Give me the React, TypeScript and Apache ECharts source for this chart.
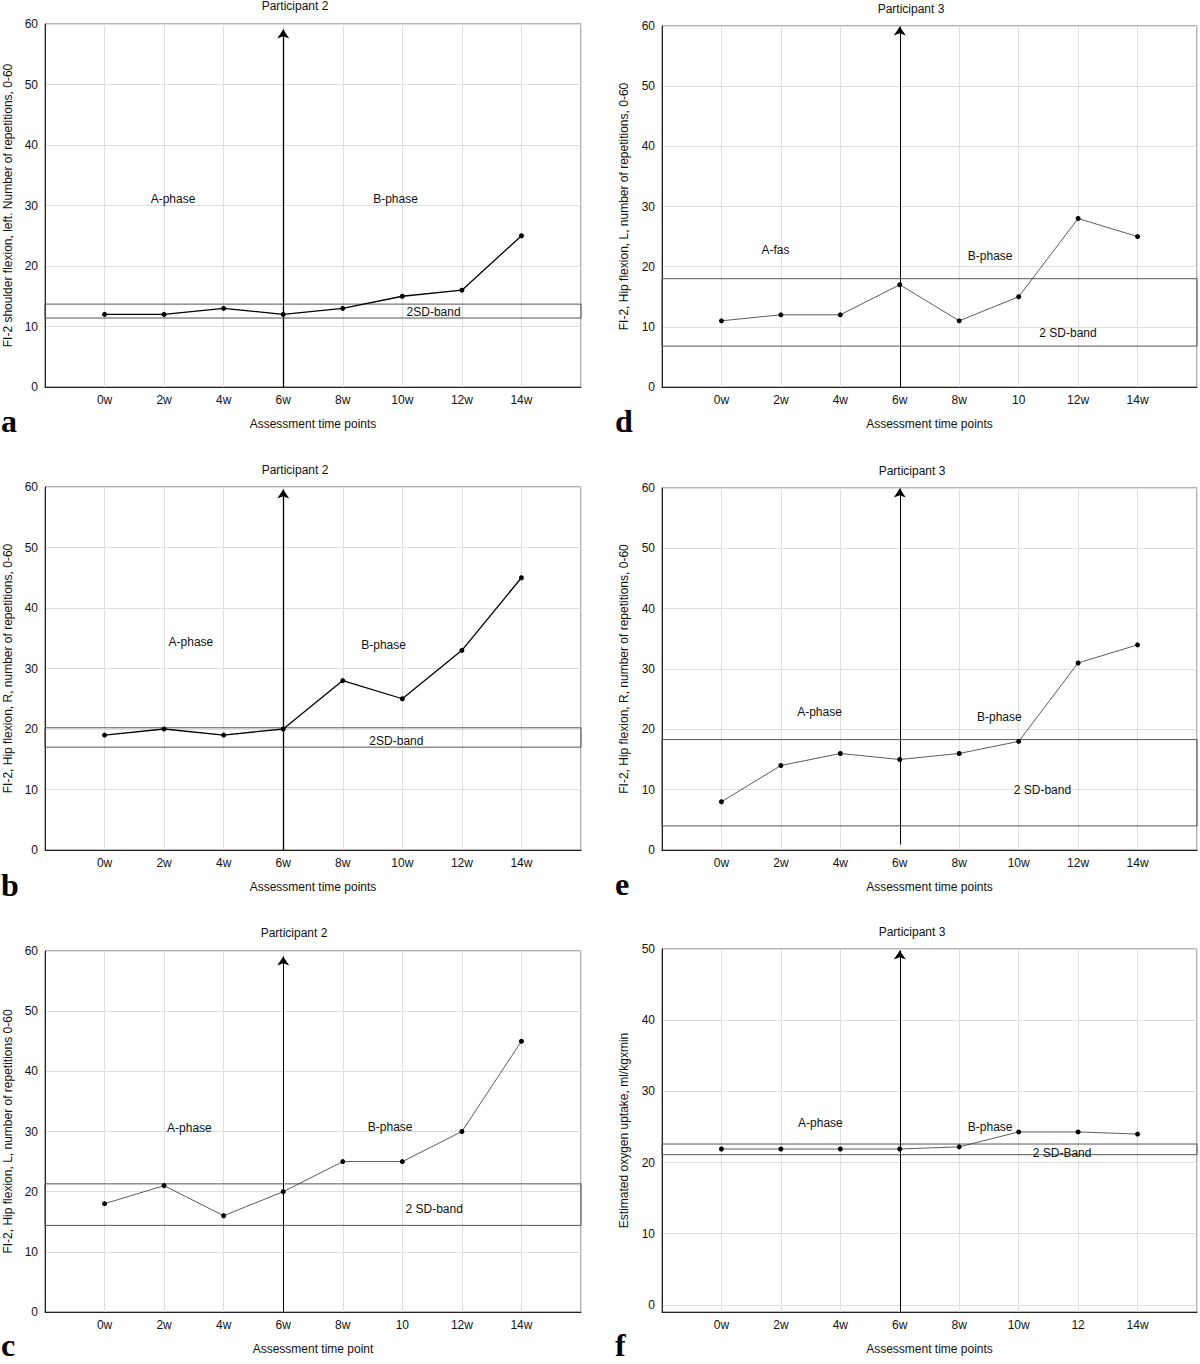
import React, { useEffect, useRef } from 'react';
import * as echarts from 'echarts';

const FONT = '"Liberation Sans", Arial, Helvetica, sans-serif';

const weeks = [0, 2, 4, 6, 8, 10, 12, 14];
const ticksStd = ['0w', '2w', '4w', '6w', '8w', '10w', '12w', '14w'];
const ticksTen = ['0w', '2w', '4w', '6w', '8w', '10', '12w', '14w'];
const ticksTwelve = ['0w', '2w', '4w', '6w', '8w', '10w', '12', '14w'];

const valuesA = [12, 12, 13, 12, 13, 15, 16, 25];
const valuesB = [19, 20, 19, 20, 28, 25, 33, 45];
const valuesC = [18, 21, 16, 20, 25, 25, 30, 45];
const valuesD = [11, 12, 12, 17, 11, 15, 28, 25];
const valuesE = [8, 14, 16, 15, 16, 18, 31, 34];
const valuesF = [21.9, 21.9, 21.9, 21.9, 22.2, 24.3, 24.3, 24.0];

const bandA = [11.4, 13.7];
const bandB = [17.0, 20.2];
const bandC = [14.4, 21.3];
const bandD = [6.8, 18.0];
const bandE = [4.0, 18.3];
const bandF = [21.1, 22.6];

const yTicks60 = [0, 10, 20, 30, 40, 50, 60];
const yTicks50 = [0, 10, 20, 30, 40, 50];

type Ann = { text: string; x: number; y: number };
type Panel = {
  letter: string;
  title: string;
  yName: string;
  xName: string;
  values: number[];
  band: number[];
  ticks: string[];
  yTicks: number[];
  yMin: number;
  yMax: number;
  arrow: number[];
  ann: Ann[];
  thick: boolean;
  grid: { left: number; top: number; width: number; height: number };
  titlePos: number[];
  letterPos: number[];
  yNameGap: number;
};

const panels: Panel[] = [
  {
    letter: 'a', title: 'Participant 2',
    yName: 'FI-2 shoulder flexion, left. Number of repetitions, 0-60',
    xName: 'Assessment time points',
    values: valuesA, band: bandA, ticks: ticksStd, yTicks: yTicks60, yMin: 0, yMax: 60,
    arrow: [0, 59.1], thick: true,
    ann: [{ text: 'A-phase', x: 2.3, y: 31.1 }, { text: 'B-phase', x: 9.77, y: 31.1 }, { text: '2SD-band', x: 11.05, y: 12.4 }],
    grid: { left: 45, top: 24, width: 536, height: 363 },
    titlePos: [295, 6], letterPos: [1, 421], yNameGap: 31,
  },
  {
    letter: 'b', title: 'Participant 2',
    yName: 'FI-2, Hip flexion, R, number of repetitions, 0-60',
    xName: 'Assessment time points',
    values: valuesB, band: bandB, ticks: ticksStd, yTicks: yTicks60, yMin: 0, yMax: 60,
    arrow: [0, 59.6], thick: true,
    ann: [{ text: 'A-phase', x: 2.9, y: 34.4 }, { text: 'B-phase', x: 9.37, y: 33.9 }, { text: '2SD-band', x: 9.8, y: 18.05 }],
    grid: { left: 45, top: 487, width: 536, height: 363 },
    titlePos: [295, 470], letterPos: [1, 885], yNameGap: 31,
  },
  {
    letter: 'c', title: 'Participant 2',
    yName: 'FI-2, Hip flexion, L, number of repetitions 0-60',
    xName: 'Assessment time point',
    values: valuesC, band: bandC, ticks: ticksTen, yTicks: yTicks60, yMin: 0, yMax: 60,
    arrow: [0, 59.1], thick: false,
    ann: [{ text: 'A-phase', x: 2.85, y: 30.5 }, { text: 'B-phase', x: 9.59, y: 30.7 }, { text: '2 SD-band', x: 11.07, y: 17.2 }],
    grid: { left: 45, top: 951, width: 536, height: 361 },
    titlePos: [294, 933], letterPos: [1, 1345], yNameGap: 31,
  },
  {
    letter: 'd', title: 'Participant 3',
    yName: 'FI-2, Hip flexion, L, number of repetitions, 0-60',
    xName: 'Assessment time points',
    values: valuesD, band: bandD, ticks: ticksTen, yTicks: yTicks60, yMin: 0, yMax: 60,
    arrow: [0, 59.9], thick: false,
    ann: [{ text: 'A-fas', x: 1.82, y: 22.7 }, { text: 'B-phase', x: 9.04, y: 21.7 }, { text: '2 SD-band', x: 11.66, y: 8.9 }],
    grid: { left: 662, top: 26, width: 536, height: 361 },
    titlePos: [911, 9], letterPos: [615, 421], yNameGap: 32,
  },
  {
    letter: 'e', title: 'Participant 3',
    yName: 'FI-2, Hip flexion, R, number of repetitions, 0-60',
    xName: 'Assessment time points',
    values: valuesE, band: bandE, ticks: ticksStd, yTicks: yTicks60, yMin: 0, yMax: 60,
    arrow: [0.9, 59.9], thick: false,
    ann: [{ text: 'A-phase', x: 3.3, y: 22.8 }, { text: 'B-phase', x: 9.35, y: 22.1 }, { text: '2 SD-band', x: 10.8, y: 9.9 }],
    grid: { left: 662, top: 488, width: 536, height: 362 },
    titlePos: [912, 471], letterPos: [615, 884], yNameGap: 32,
  },
  {
    letter: 'f', title: 'Participant 3',
    yName: 'Estimated oxygen uptake, ml/kgxmin',
    xName: 'Assessment time points',
    values: valuesF, band: bandF, ticks: ticksTwelve, yTicks: yTicks50, yMin: -1, yMax: 50,
    arrow: [-1, 49.8], thick: false,
    ann: [{ text: 'A-phase', x: 3.33, y: 25.5 }, { text: 'B-phase', x: 9.04, y: 25.0 }, { text: '2 SD-Band', x: 11.46, y: 21.4 }],
    grid: { left: 662, top: 949, width: 536, height: 363 },
    titlePos: [912, 932], letterPos: [615, 1345], yNameGap: 32,
  },
];

function buildOption() {
  const grid: any[] = [];
  const xAxis: any[] = [];
  const yAxis: any[] = [];
  const series: any[] = [];
  const graphic: any[] = [];

  panels.forEach((p, i) => {
    grid.push({
      left: p.grid.left, top: p.grid.top, width: p.grid.width, height: p.grid.height,
      show: true, borderColor: '#6a6a6a', borderWidth: 1, backgroundColor: 'transparent',
    });
    xAxis.push({
      type: 'value', gridIndex: i, min: -2, max: 16, interval: 2,
      name: p.xName, nameLocation: 'middle', nameGap: 31,
      nameTextStyle: { fontSize: 12, color: '#111', fontFamily: FONT },
      axisLine: { onZero: false, lineStyle: { color: '#222', width: 1 } },
      axisTick: { show: false },
      splitLine: { show: true, lineStyle: { color: '#dedede', width: 1 } },
      axisLabel: {
        margin: 7, fontSize: 12, color: '#111', fontFamily: FONT,
        formatter: (v: number) => {
          const k = weeks.indexOf(v);
          return k >= 0 ? p.ticks[k] : '';
        },
      },
    });
    yAxis.push({
      type: 'value', gridIndex: i, min: p.yMin, max: p.yMax,
      ...(p.yMin === 0 ? { interval: 10 } : { splitNumber: 5 }),
      name: p.yName, nameLocation: 'middle', nameGap: p.yNameGap,
      nameTextStyle: { fontSize: 12, color: '#111', fontFamily: FONT },
      axisLine: { show: true, onZero: false, lineStyle: { color: '#222', width: 1 } },
      axisTick: { show: false, customValues: p.yTicks },
      splitLine: { show: true, lineStyle: { color: '#dedede', width: 1 } },
      axisLabel: {
        margin: 7, fontSize: 12, color: '#111', fontFamily: FONT,
        customValues: p.yTicks,
        formatter: (v: number) => (v < 0 ? '' : String(v)),
      },
    });

    const lineColor = p.thick ? '#000' : '#333';
    const lineWidth = p.thick ? 1.3 : 0.8;
    series.push({
      type: 'line', xAxisIndex: i, yAxisIndex: i, silent: true,
      data: weeks.map((w, k) => [w, p.values[k]]),
      symbol: 'circle', symbolSize: 5,
      itemStyle: { color: '#000' },
      lineStyle: { color: lineColor, width: lineWidth },
      markArea: {
        silent: true,
        label: { show: false },
        itemStyle: { color: 'rgba(0,0,0,0)', borderColor: '#555', borderWidth: 1 },
        data: [[{ coord: [-2, p.band[0]] }, { coord: [16, p.band[1]] }]],
      },
      markLine: {
        silent: true,
        symbol: ['none', 'arrow'],
        symbolSize: 9,
        label: { show: false },
        emphasis: { disabled: true },
        lineStyle: { type: 'solid', color: '#000', width: p.thick ? 1.3 : 1 },
        data: [[{ coord: [6, p.arrow[0]] }, { coord: [6, p.arrow[1]] }]],
      },
      markPoint: {
        silent: true,
        symbol: 'circle', symbolSize: 0,
        label: { show: true, position: 'inside', formatter: '{b}', color: '#111', fontSize: 12, fontFamily: FONT },
        data: p.ann.map((a) => ({ name: a.text, coord: [a.x, a.y] })),
      },
    });

    graphic.push({
      type: 'text', x: p.titlePos[0], y: p.titlePos[1], silent: true,
      style: {
        text: p.title, font: `12px ${FONT}`, fill: '#111',
        textAlign: 'center', textVerticalAlign: 'middle', align: 'center', verticalAlign: 'middle',
      },
    });
    graphic.push({
      type: 'text', x: p.letterPos[0], y: p.letterPos[1], silent: true,
      style: {
        text: p.letter, font: `bold 32px "Liberation Serif", "Times New Roman", serif`, fill: '#000',
        textAlign: 'left', textVerticalAlign: 'middle', align: 'left', verticalAlign: 'middle',
      },
    });
  });

  return {
    animation: false,
    backgroundColor: '#fff',
    textStyle: { fontFamily: FONT },
    grid, xAxis, yAxis, series, graphic,
  };
}

export default function App() {
  const ref = useRef<HTMLDivElement>(null);
  useEffect(() => {
    if (!ref.current) return;
    const chart = echarts.init(ref.current, undefined, { renderer: 'svg' });
    chart.setOption(buildOption() as any);
    return () => chart.dispose();
  }, []);
  return (
    <div
      ref={ref}
      style={{ position: 'absolute', left: 0, top: 0, width: 1200, height: 1364, background: '#fff' }}
    />
  );
}
